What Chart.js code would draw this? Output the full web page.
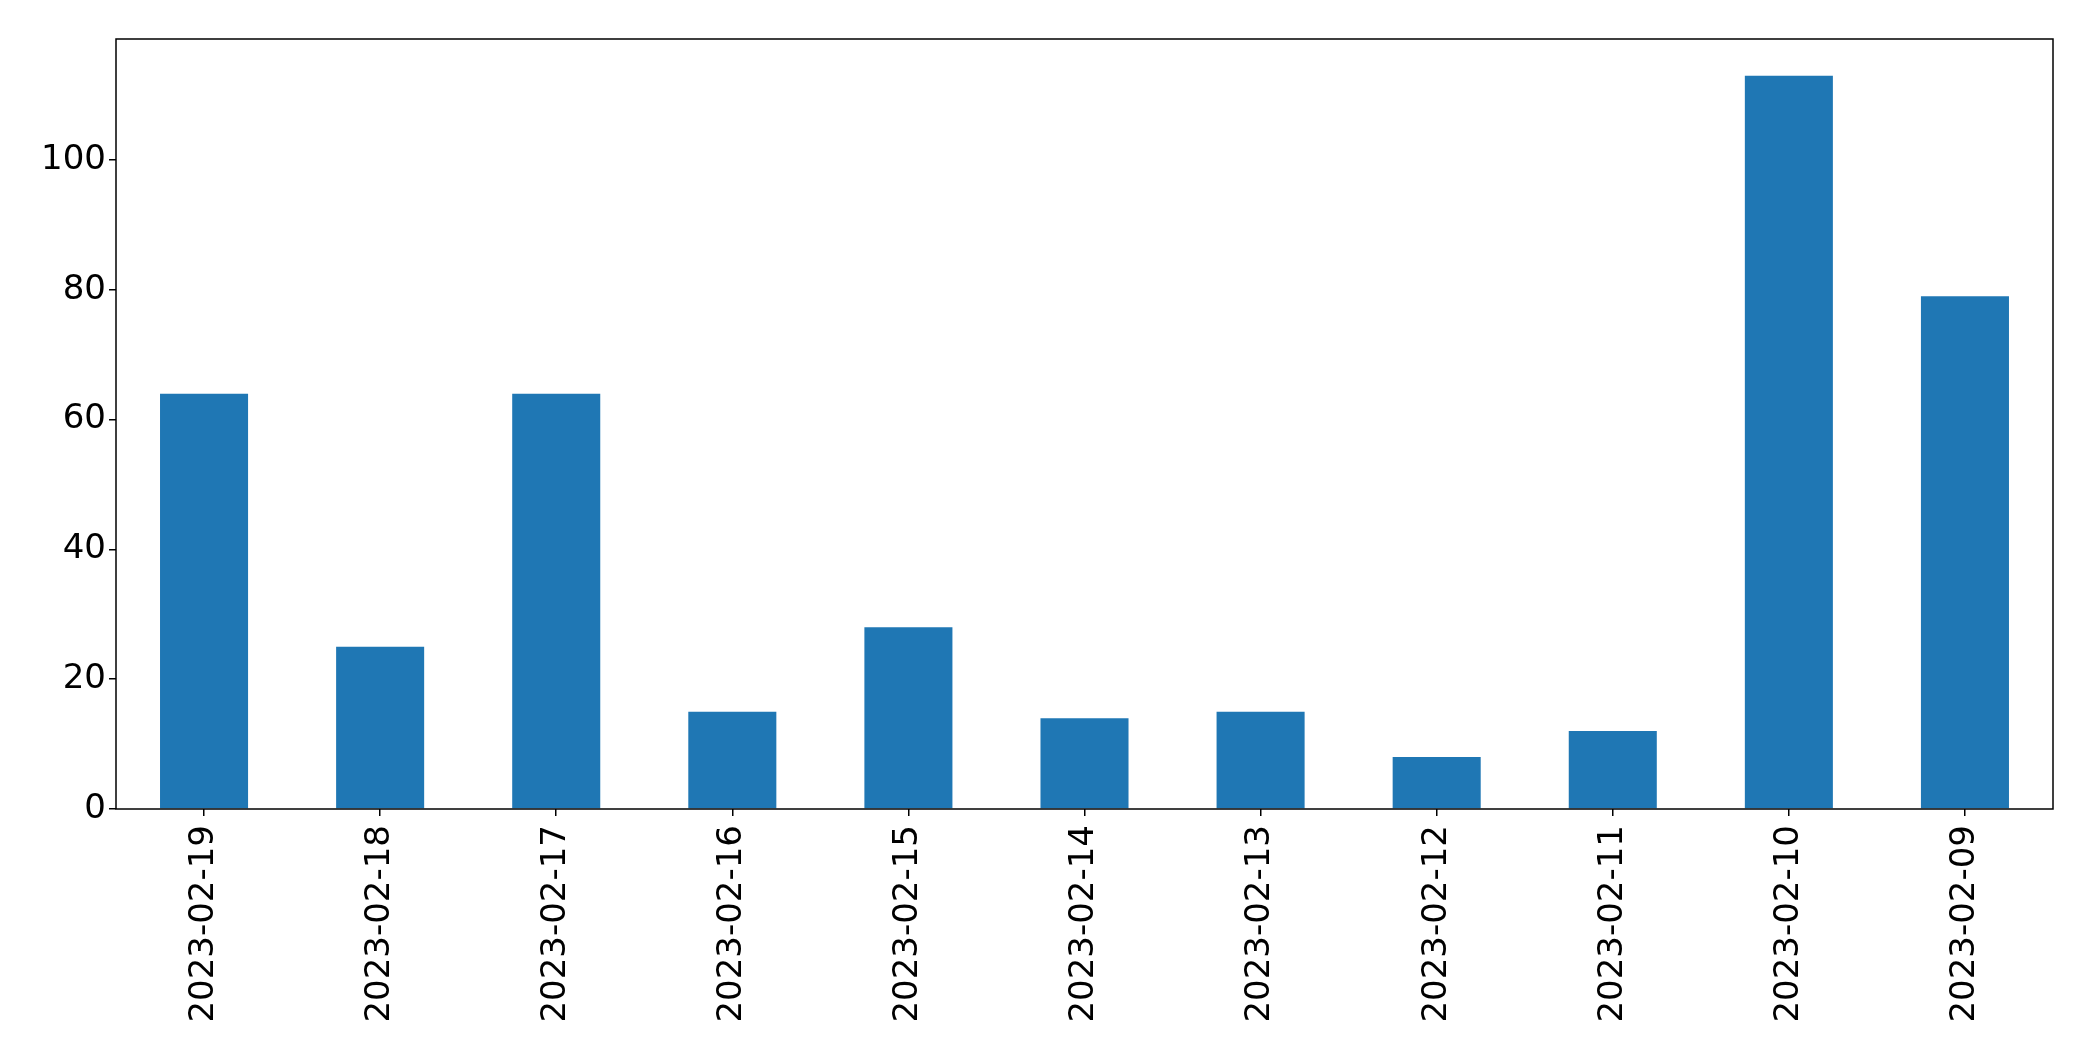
<!DOCTYPE html>
<html>
<head>
<meta charset="utf-8">
<script src="https://cdn.jsdelivr.net/npm/chart.js@4"></script>
<style>
  html, body { margin: 0; padding: 0; background: #fff; }
  #wrap { width: 2093px; height: 1061px; }
</style>
</head>
<body>
<div id="wrap"><canvas id="barChart" width="2093" height="1061"></canvas></div>
<script>
const dates = ['2023-02-19', '2023-02-18', '2023-02-17', '2023-02-16', '2023-02-15', '2023-02-14',
  '2023-02-13', '2023-02-12', '2023-02-11', '2023-02-10', '2023-02-09'];
const counts = [64, 25, 64, 15, 28, 14, 15, 8, 12, 113, 79];
const yTicks = [0, 20, 40, 60, 80, 100];

// box around the plot area (matplotlib style spines)
const frame = {
  id: 'frame',
  afterDraw(chart) {
    const { ctx, chartArea: a } = chart;
    ctx.save();
    ctx.strokeStyle = '#000';
    ctx.lineWidth = 1.5;
    ctx.strokeRect(a.left, a.top, a.right - a.left, a.bottom - a.top);
    ctx.restore();
  }
};

const font = { family: 'DejaVu Sans', size: 34 };

new Chart(document.getElementById('barChart'), {
  type: 'bar',
  data: {
    labels: dates,
    datasets: [{
      data: counts,
      backgroundColor: '#1f77b4',
      barPercentage: 0.5,
      categoryPercentage: 1.0,
    }],
  },
  options: {
    responsive: false,
    animation: false,
    layout: { padding: { top: 39, right: 40, left: 0, bottom: 0 } },
    plugins: {
      legend: { display: false },
      tooltip: { enabled: false },
    },
    scales: {
      x: {
        grid: { display: true, offset: false, drawOnChartArea: false, drawTicks: true, tickLength: 7, color: '#000', lineWidth: 1.5 },
        border: { display: false },
        ticks: { color: '#000', font, minRotation: 90, maxRotation: 90, padding: 9, autoSkip: false },
        afterFit(scale) { scale.height = 252; },
      },
      y: {
        min: 0,
        max: 118.65,
        afterBuildTicks(scale) { scale.ticks = yTicks.map(v => ({ value: v })); },
        grid: { display: true, drawOnChartArea: false, drawTicks: true, tickLength: 7, color: '#000', lineWidth: 1.5 },
        border: { display: false },
        ticks: { color: '#000', font, padding: 3 },
        afterFit(scale) { scale.width = 116; },
      },
    },
  },
  plugins: [frame],
});
</script>
</body>
</html>
